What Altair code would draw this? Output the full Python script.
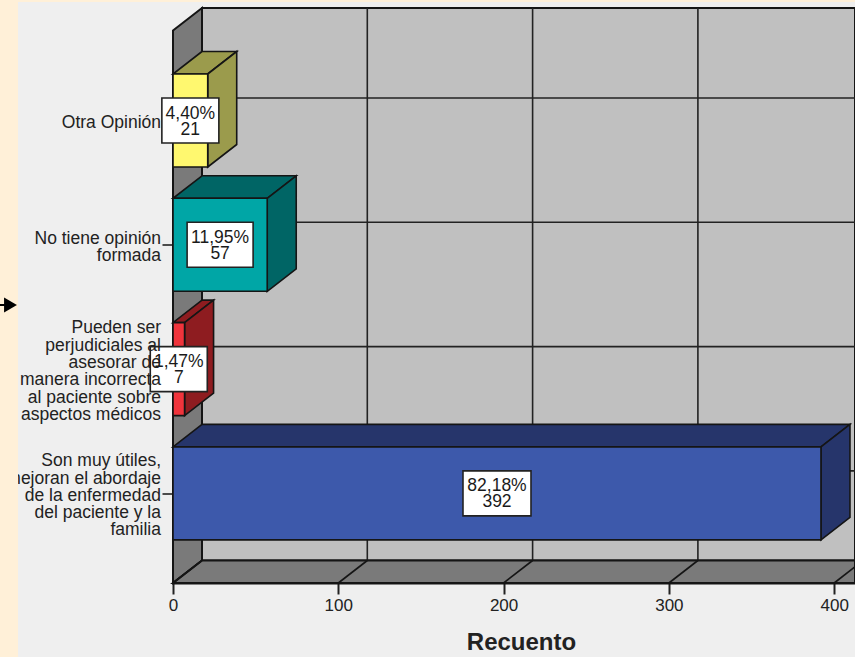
import altair as alt
import pandas as pd

# Survey results
categories = [
    "Otra Opinión",
    "No tiene opinión\nformada",
    "Pueden ser\nperjudiciales al\nasesorar de\nmanera incorrecta\nal paciente sobre\naspectos médicos",
    "Son muy útiles,\nmejoran el abordaje\nde la enfermedad\ndel paciente y la\nfamilia",
]
counts = [21, 57, 7, 392]
percents = ["4,40%", "11,95%", "1,47%", "82,18%"]
front_colors = ["#FFF86F", "#00A6A6", "#F0343C", "#3D59AB"]
side_colors = ["#9B9B4C", "#006565", "#8E1C20", "#26356B"]
box_px = [57, 66, 57, 68]
x_ticks = [0, 100, 200, 300, 400]

# Plot frame on the page and the scale factors of the two axes
LEFT, TOP, BOTTOM, PAGE_W, PAGE_H = 173, 30.5, 583, 855, 657
PX_X = 1.653   # pixels per count
PX_Y = 124.3   # pixels per category step
Y0 = 120.5     # page row of the first category
DX = 29 / PX_X   # 3D depth in count units
DY = 22.5 / PX_Y  # 3D depth in category units
BAR = 46.5 / PX_Y
LABEL_LINE = 17.3
BOX_LINE = 16

X_MAX = (PAGE_W - LEFT) / PX_X
Y_MIN = (TOP - Y0) / PX_Y
Y_MAX = (BOTTOM - Y0) / PX_Y
pos = list(range(len(categories)))


def ux(px):
    return (px - LEFT) / PX_X


def uy(px):
    return (px - Y0) / PX_Y


x_sc = alt.Scale(domain=[0, X_MAX], nice=False, zero=False)
y_sc = alt.Scale(domain=[Y_MIN, Y_MAX], nice=False, zero=False, reverse=True)

# Counts along the bottom, category ticks down the left edge
x_ax = alt.Axis(
    values=x_ticks, title="Recuento", grid=False, format="d",
    domainColor="#151515", domainWidth=2,
    tickColor="#222222", tickWidth=2, tickSize=11,
    labelFont="Liberation Sans", labelFontSize=17, labelColor="#222222", labelPadding=3,
    labelFlush=False, labelBound=False, labelOverlap=False,
    titleFont="Liberation Sans", titleFontSize=24, titleFontWeight="bold",
    titleColor="#222222", titleX=348, titleY=47,
)
y_ax = alt.Axis(
    values=pos, title=None, grid=False, labels=False,
    domainColor="#151515", domainWidth=2,
    tickColor="#222222", tickWidth=1.6, tickSize=11,
)
X = lambda f: alt.X(f, type="quantitative", scale=x_sc, axis=x_ax)
Y = lambda f: alt.Y(f, type="quantitative", scale=y_sc, axis=y_ax)


def rect(df, **kw):
    return alt.Chart(pd.DataFrame(df)).mark_rect(**kw).encode(
        x=X("x"), x2="x2", y=Y("y"), y2="y2"
    )


def vface(rows, color, stroke="#151515", width=1.6):
    """Slanted face bounded by vertical edges."""
    return alt.Chart(pd.DataFrame(rows)).mark_area(
        orient="vertical", stroke=stroke, strokeWidth=width, color=color
    ).encode(x=X("x"), y=Y("y"), y2="y2", detail="k:N")


def hface(rows, color, stroke="#151515", width=1.6):
    """Slanted face bounded by horizontal edges."""
    return alt.Chart(pd.DataFrame(rows)).mark_area(
        orient="horizontal", stroke=stroke, strokeWidth=width, color=color
    ).encode(y=Y("y"), x=X("x"), x2="x2", detail="k:N")


back_wall = rect(
    [{"x": DX, "x2": X_MAX, "y": Y_MIN - DY, "y2": Y_MAX - DY}],
    fill="#C0C0C0", stroke="#151515", strokeWidth=2,
)
left_wall = vface(
    [
        {"k": 0, "x": 0, "y": Y_MIN, "y2": Y_MAX},
        {"k": 0, "x": DX, "y": Y_MIN - DY, "y2": Y_MAX - DY},
    ],
    "#7A7A7A", width=2,
)
floor = hface(
    [
        {"k": 0, "y": Y_MAX, "x": 0, "x2": X_MAX},
        {"k": 0, "y": Y_MAX - DY, "x": DX, "x2": X_MAX},
    ],
    "#7A7A7A", width=2,
)

# Grid on the back wall, and its continuation across the floor
grid_v = alt.Chart(pd.DataFrame({"x": [t + DX for t in x_ticks[1:-1]], "y": Y_MIN - DY, "y2": Y_MAX - DY})).mark_rule(
    color="#222222", strokeWidth=1.6
).encode(x=X("x"), y=Y("y"), y2="y2")
grid_h = alt.Chart(pd.DataFrame({"y": [p - DY for p in pos], "x": DX, "x2": X_MAX})).mark_rule(
    color="#222222", strokeWidth=1.6
).encode(y=Y("y"), x=X("x"), x2="x2")
grid_floor = alt.Chart(
    pd.DataFrame(
        [{"k": t, "x": t + s * DX, "y": Y_MAX - s * DY} for t in x_ticks for s in (0, 1)]
    )
).mark_line(color="#151515", strokeWidth=1.6).encode(x=X("x"), y=Y("y"), detail="k:N")

# The 3D bars
bars = []
for p, n, fc, sc in zip(pos, counts, front_colors, side_colors):
    top, bot = p - BAR, p + BAR
    bars.append(
        hface(
            [
                {"k": p, "y": top, "x": 0, "x2": n},
                {"k": p, "y": top - DY, "x": DX, "x2": n + DX},
            ],
            sc,
        )
    )
    bars.append(
        vface(
            [
                {"k": p, "x": n, "y": top, "y2": bot},
                {"k": p, "x": n + DX, "y": top - DY, "y2": bot - DY},
            ],
            sc,
        )
    )
    bars.append(
        rect([{"x": 0, "x2": n, "y": top, "y2": bot}], fill=fc, stroke="#151515", strokeWidth=1.6)
    )

# Value boxes centred on each bar's front face
box_rows = [
    {
        "x": n / 2 - w / 2 / PX_X,
        "x2": n / 2 + w / 2 / PX_X,
        "y": p - 22.5 / PX_Y,
        "y2": p + 22.5 / PX_Y,
    }
    for p, n, w in zip(pos, counts, box_px)
]
boxes = rect(box_rows, fill="white", stroke="#222222", strokeWidth=1.6)
box_text = alt.Chart(
    pd.DataFrame(
        {
            "x": [n / 2 for n in counts],
            "y": [p - (BOX_LINE / 2 - 1) / PX_Y for p in pos],
            "t": [f"{a}\n{b}" for a, b in zip(percents, counts)],
        }
    )
).mark_text(
    font="Liberation Sans", fontSize=17.5, color="#1A1A1A", lineBreak="\n", lineHeight=BOX_LINE,
    align="center", baseline="middle",
).encode(x=X("x"), y=Y("y"), text="t:N")

# Category labels, right-aligned against the ticks and drawn above the boxes.
# Multi-line text hangs from its first line, so each block is lifted by half its height.
cat_text = alt.Chart(
    pd.DataFrame(
        {
            "x": ux(161),
            "y": [
                p + (2.5 - (c.count("\n")) * LABEL_LINE / 2) / PX_Y
                for p, c in zip(pos, categories)
            ],
            "t": categories,
        }
    )
).mark_text(
    font="Liberation Sans", fontSize=17.5, color="#222222", lineBreak="\n", lineHeight=LABEL_LINE,
    align="right", baseline="middle",
).encode(x=X("x"), y=Y("y"), text="t:N")

# Cream page margin, left and top, over the light panel
margin_left = rect([{"x": ux(0), "x2": ux(18), "y": uy(0), "y2": uy(PAGE_H)}], fill="#FFF0D8")
margin_top = rect([{"x": ux(0), "x2": X_MAX, "y": uy(0), "y2": uy(2)}], fill="#FFF0D8")

# Small pointer in the left margin
arrow_line = alt.Chart(pd.DataFrame({"x": ux(0), "x2": ux(8), "y": uy(305)}, index=[0])).mark_rule(
    color="black", strokeWidth=2
).encode(x=X("x"), x2="x2", y=Y("y"))
arrow_head = alt.Chart(pd.DataFrame({"x": ux(10.5), "y": uy(305)}, index=[0])).mark_point(
    shape="triangle-right", filled=True, color="black", size=220, opacity=1
).encode(x=X("x"), y=Y("y"))

chart = alt.layer(
    back_wall, grid_v, grid_h, left_wall, floor, grid_floor,
    *bars, boxes, box_text, cat_text, margin_left, margin_top, arrow_line, arrow_head,
).properties(
    width=PAGE_W - LEFT,
    height=BOTTOM - TOP,
    padding={"left": LEFT, "top": TOP, "right": 0, "bottom": PAGE_H - BOTTOM},
    autosize=alt.AutoSizeParams(type="none"),
    background="#EFEFEF",
).configure_view(stroke=None)

chart.save("out.html", embed_options={"renderer": "svg", "actions": False})
